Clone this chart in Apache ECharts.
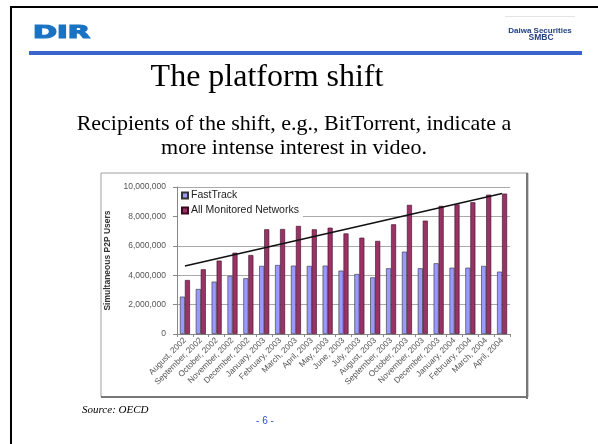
<!DOCTYPE html>
<html>
<head>
<meta charset="utf-8">
<script src="https://cdn.jsdelivr.net/npm/echarts@6/dist/echarts.min.js"></script>
<style>
html,body{margin:0;padding:0;background:#fff;}
#chart{width:598px;height:444px;}
</style>
</head>
<body>
<div id="chart"></div>
<script>
var categories = ["August, 2002","September, 2002","October, 2002","November, 2002","December, 2002","January, 2003","February, 2003","March, 2003","April, 2003","May, 2003","June, 2003","July, 2003","August, 2003","September, 2003","October, 2003","November, 2003","December, 2003","January, 2004","February, 2004","March, 2004","April, 2004"];
var fastTrack = [2540000,3060000,3560000,3950000,3790000,4630000,4690000,4650000,4630000,4650000,4310000,4080000,3850000,4470000,5600000,4470000,4810000,4510000,4510000,4630000,4240000];
var allNetworks = [3670000,4400000,4990000,5530000,5370000,7120000,7140000,7350000,7120000,7230000,6840000,6550000,6330000,7460000,8780000,7710000,8710000,8820000,8960000,9480000,9550000];
var trendLine = [4630000,null,null,null,null,null,null,null,null,null,null,null,null,null,null,null,null,null,null,null,9560000];
var yTicks = [0,2000000,4000000,6000000,8000000,10000000];

var chart = echarts.init(document.getElementById('chart'), null, {renderer:'canvas'});
var option = {
  backgroundColor:'#fff',
  animation:false,
  graphic:[
    {type:'rect', shape:{x:10,y:6,width:588,height:2}, style:{fill:'#000'}},
    {type:'rect', shape:{x:10,y:6,width:2,height:438}, style:{fill:'#000'}},
    {type:'text', x:33, y:25, scaleX:1.7, style:{text:'DIR', font:'bold 17px "DejaVu Sans"', fill:'#1a73c2', stroke:'#1a73c2', lineWidth:1.2, textVerticalAlign:'top'}},
    {type:'rect', shape:{x:505,y:16,width:70,height:1}, style:{fill:'#e4e4e4'}},
    {type:'text', x:540, y:27, style:{text:'Daiwa Securities', font:'bold 8px "Liberation Sans Narrow", "Liberation Sans"', fill:'#1f3f7f', textAlign:'center', textVerticalAlign:'top'}},
    {type:'text', x:541, y:33, style:{text:'SMBC', font:'bold 8.5px "Liberation Sans"', fill:'#1f3f7f', textAlign:'center', textVerticalAlign:'top'}},
    {type:'rect', shape:{x:29,y:51,width:553,height:4}, style:{fill:'#3a66cc'}},
    {type:'text', x:267, y:78, style:{text:'The platform shift', font:'32px "Liberation Serif"', fill:'#000', textAlign:'center', textVerticalAlign:'middle'}},
    {type:'text', x:294, y:124, style:{text:'Recipients of the shift, e.g., BitTorrent, indicate a', font:'22px "Liberation Serif"', fill:'#000', textAlign:'center', textVerticalAlign:'middle'}},
    {type:'text', x:294, y:148, style:{text:'more intense interest in video.', font:'22px "Liberation Serif"', fill:'#000', textAlign:'center', textVerticalAlign:'middle'}},
    {type:'rect', z:-10, shape:{x:101,y:173,width:427,height:224}, style:{fill:'#fff', stroke:'#a0a0a0', lineWidth:1}},
    {type:'rect', z:-9, shape:{x:526,y:173,width:2,height:226}, style:{fill:'#777'}},
    {type:'rect', z:-9, shape:{x:101,y:396,width:427,height:2}, style:{fill:'#777'}},
    {type:'text', x:82, y:410, style:{text:'Source: OECD', font:'italic 11px "Liberation Serif"', fill:'#000', textVerticalAlign:'middle'}},
    {type:'text', x:265, y:421, style:{text:'- 6 -', font:'10px "Liberation Sans"', fill:'#2a50c8', textAlign:'center', textVerticalAlign:'middle'}}
  ],
  grid:{left:177, right:88, top:187, bottom:110},
  legend:{
    data:['FastTrack','All Monitored Networks'],
    orient:'vertical', left:178, top:188,
    itemWidth:6, itemHeight:6, itemGap:4, padding:[2,4,2,3],
    backgroundColor:'#fff',
    textStyle:{fontSize:10.5, color:'#222', fontFamily:'"Liberation Sans", Arial', padding:[0,0,0,-2]},
    icon:'rect'
  },
  xAxis:{
    type:'category', data:categories,
    axisLine:{lineStyle:{color:'#888', width:1}},
    axisTick:{show:true, length:3, lineStyle:{color:'#888'}},
    axisLabel:{rotate:45, fontSize:8.3, color:'#555', fontFamily:'"Liberation Sans", Arial', interval:0, margin:5}
  },
  yAxis:{
    type:'value', min:0, max:10000000, interval:2000000,
    name:'Simultaneous P2P Users', nameLocation:'middle', nameRotate:90, nameGap:62,
    nameTextStyle:{fontSize:8.5, fontWeight:'bold', color:'#333', fontFamily:'"Liberation Sans", Arial'},
    axisLine:{show:true, lineStyle:{color:'#888'}},
    axisTick:{show:true, length:4, lineStyle:{color:'#888'}},
    axisLabel:{fontSize:8.5, color:'#555', fontFamily:'"Liberation Sans", Arial', margin:11,
      formatter:function(v){ return yTicks.indexOf(v) >= 0 ? v.toLocaleString('en-US') : ''; }},
    splitLine:{lineStyle:{color:'#aaa', width:1}}
  },
  series:[
    {name:'FastTrack', type:'bar', data:fastTrack, barWidth:5, barGap:'0%',
      itemStyle:{color:'#9999ff', borderColor:'#333', borderWidth:0.6}},
    {name:'All Monitored Networks', type:'bar', data:allNetworks, barWidth:5,
      itemStyle:{color:'#993366', borderColor:'#3a0a20', borderWidth:0.6}},
    {name:'Trend', type:'line', data:trendLine, connectNulls:true, symbol:'none',
      lineStyle:{color:'#111', width:1.5}, z:5}
  ]
};
chart.setOption(option);
</script>
</body>
</html>
